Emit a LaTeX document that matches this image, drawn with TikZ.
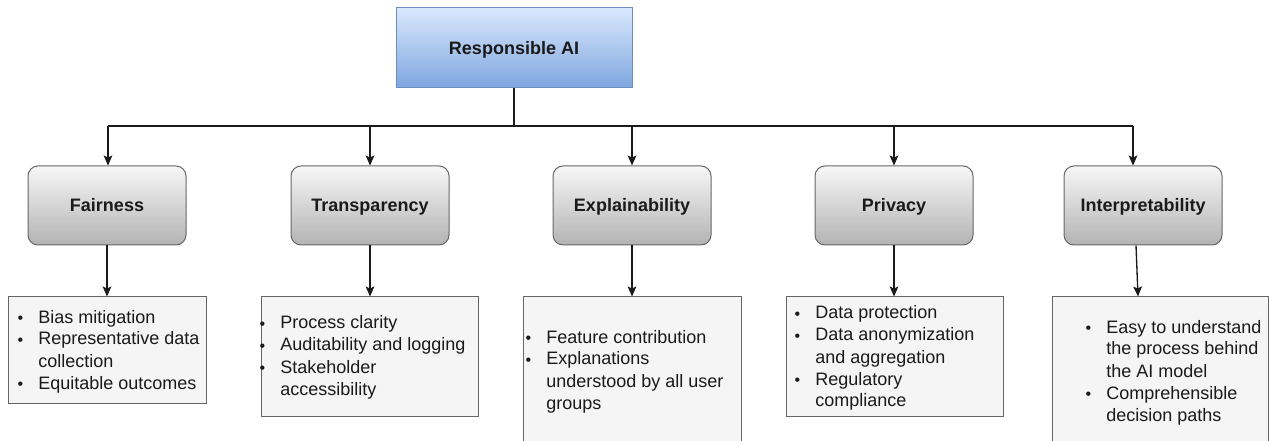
\documentclass[tikz,border=0pt]{standalone}
\usepackage{fontspec}
\setmainfont{Liberation Sans}
\usetikzlibrary{arrows.meta}
\definecolor{blueTop}{HTML}{DAE8FC}
\definecolor{blueBot}{HTML}{7EA6E0}
\definecolor{blueLine}{HTML}{6C8EBF}
\definecolor{grayTop}{HTML}{F7F7F7}
\definecolor{grayBot}{HTML}{B3B3B3}
\definecolor{grayLine}{HTML}{666666}
\definecolor{boxFill}{HTML}{F5F5F5}
\definecolor{ink}{HTML}{1A1A1A}
\newcommand\bl{\makebox[15.75pt][l]{\hspace{0.3pt}\raisebox{-0.3pt}{\fontsize{12}{12}\selectfont\textbullet}}}
\begin{document}
\begin{tikzpicture}[x=0.75pt,y=-0.75pt,
  rootbox/.style={draw=blueLine, line width=0.75pt, top color=blueTop, bottom color=blueBot,
    minimum width=177pt, minimum height=60pt, inner sep=0pt, text height=9.7pt, text depth=0pt,
    font=\fontsize{13.5}{16}\selectfont\bfseries, text=ink},
  catbox/.style={draw=grayLine, line width=0.75pt, rounded corners=7.5pt, top color=grayTop, bottom color=grayBot,
    minimum width=118.5pt, minimum height=59.25pt, inner sep=0pt, text height=9.7pt, text depth=0pt,
    font=\fontsize{13.5}{16}\selectfont\bfseries, text=ink},
  listbox/.style={draw=grayLine, line width=0.75pt, fill=boxFill, inner sep=0pt},
  listtxt/.style={anchor=base west, inner sep=0pt, text=ink,
    font=\fontsize{13.5}{16.5}\selectfont},
  link/.style={draw=ink, line width=1pt},
  arr/.style={link, -{Stealth[length=7.5pt,width=6.5pt,inset=1.5pt]}}
]
\useasboundingbox (0,0) rectangle (1269,441);
\clip (0,0) rectangle (1269,441);

% root
\node[rootbox] (root) at (514,48) {Responsible AI};

% categories
\node[catbox] (fair) at (107,205.5) {Fairness};
\node[catbox] (trans) at (370,205.5) {Transparency};
\node[catbox] (expl) at (632,205.5) {Explainability};
\node[catbox] (priv) at (894,205.5) {Privacy};
\node[catbox] (interp) at (1143,205.5) {Interpretability};

% list boxes
\node[listbox, minimum width=148.5pt, minimum height=79.5pt] (fairL) at (107,350) {};
\node[listbox, minimum width=162.75pt, minimum height=89.25pt] (transL) at (369.5,356.5) {};
\node[listbox, minimum width=163.5pt, minimum height=129.75pt] (explL) at (632,383.5) {};
\node[listbox, minimum width=162.75pt, minimum height=89.25pt] (privL) at (894.5,356.5) {};
\node[listbox, minimum width=162pt, minimum height=129.75pt] (interpL) at (1160,383.5) {};

% list texts
\node[listtxt] (fairT) at (17,323) {\begin{tabular}[t]{@{}l@{}l@{}}
\bl & Bias mitigation\\
\bl & Representative data\\
 & collection\\
\bl & Equitable outcomes
\end{tabular}};
\node[listtxt] (transT) at (259,329) {\begin{tabular}[t]{@{}l@{}l@{}}
\bl & Process clarity\\
\bl & Auditability and logging\\
\bl & Stakeholder\\
 & accessibility
\end{tabular}};
\node[listtxt] (explT) at (525,343) {\begin{tabular}[t]{@{}l@{}l@{}}
\bl & Feature contribution\\
\bl & Explanations\\
 & understood by all user\\
 & groups
\end{tabular}};
\node[listtxt] (privT) at (794,319) {\begin{tabular}[t]{@{}l@{}l@{}}
\bl & Data protection\\
\bl & Data anonymization\\
 & and aggregation\\
\bl & Regulatory\\
 & compliance
\end{tabular}};
\node[listtxt] (interpT) at (1085,333) {\begin{tabular}[t]{@{}l@{}l@{}}
\bl & Easy to understand\\
 & the process behind\\
 & the AI model\\
\bl & Comprehensible\\
 & decision paths
\end{tabular}};

% tree connectors
\coordinate (bus) at (514,126);
\coordinate (busL) at (108,126);
\coordinate (busR) at (1133,126);
\draw[link] (root.south) -- (bus);
\draw[link] (busL) -- (busR);
\draw[arr] (busL) -- (busL |- fair.north);
\draw[arr] (trans.north |- bus) -- (trans.north);
\draw[arr] (expl.north |- bus) -- (expl.north);
\draw[arr] (priv.north |- bus) -- (priv.north);
\draw[arr] (busR) -- (busR |- interp.north);

% category to list
\draw[arr] (fair.south) -- (fairL.north);
\draw[arr] (trans.south) -- (trans.south |- transL.north);
\draw[arr] (expl.south) -- (explL.north);
\draw[arr] (priv.south) -- (priv.south |- privL.north);
\draw[arr] ([xshift=-5.25pt]interp.south) -- ([xshift=-16.5pt]interpL.north);
\end{tikzpicture}
\end{document}
